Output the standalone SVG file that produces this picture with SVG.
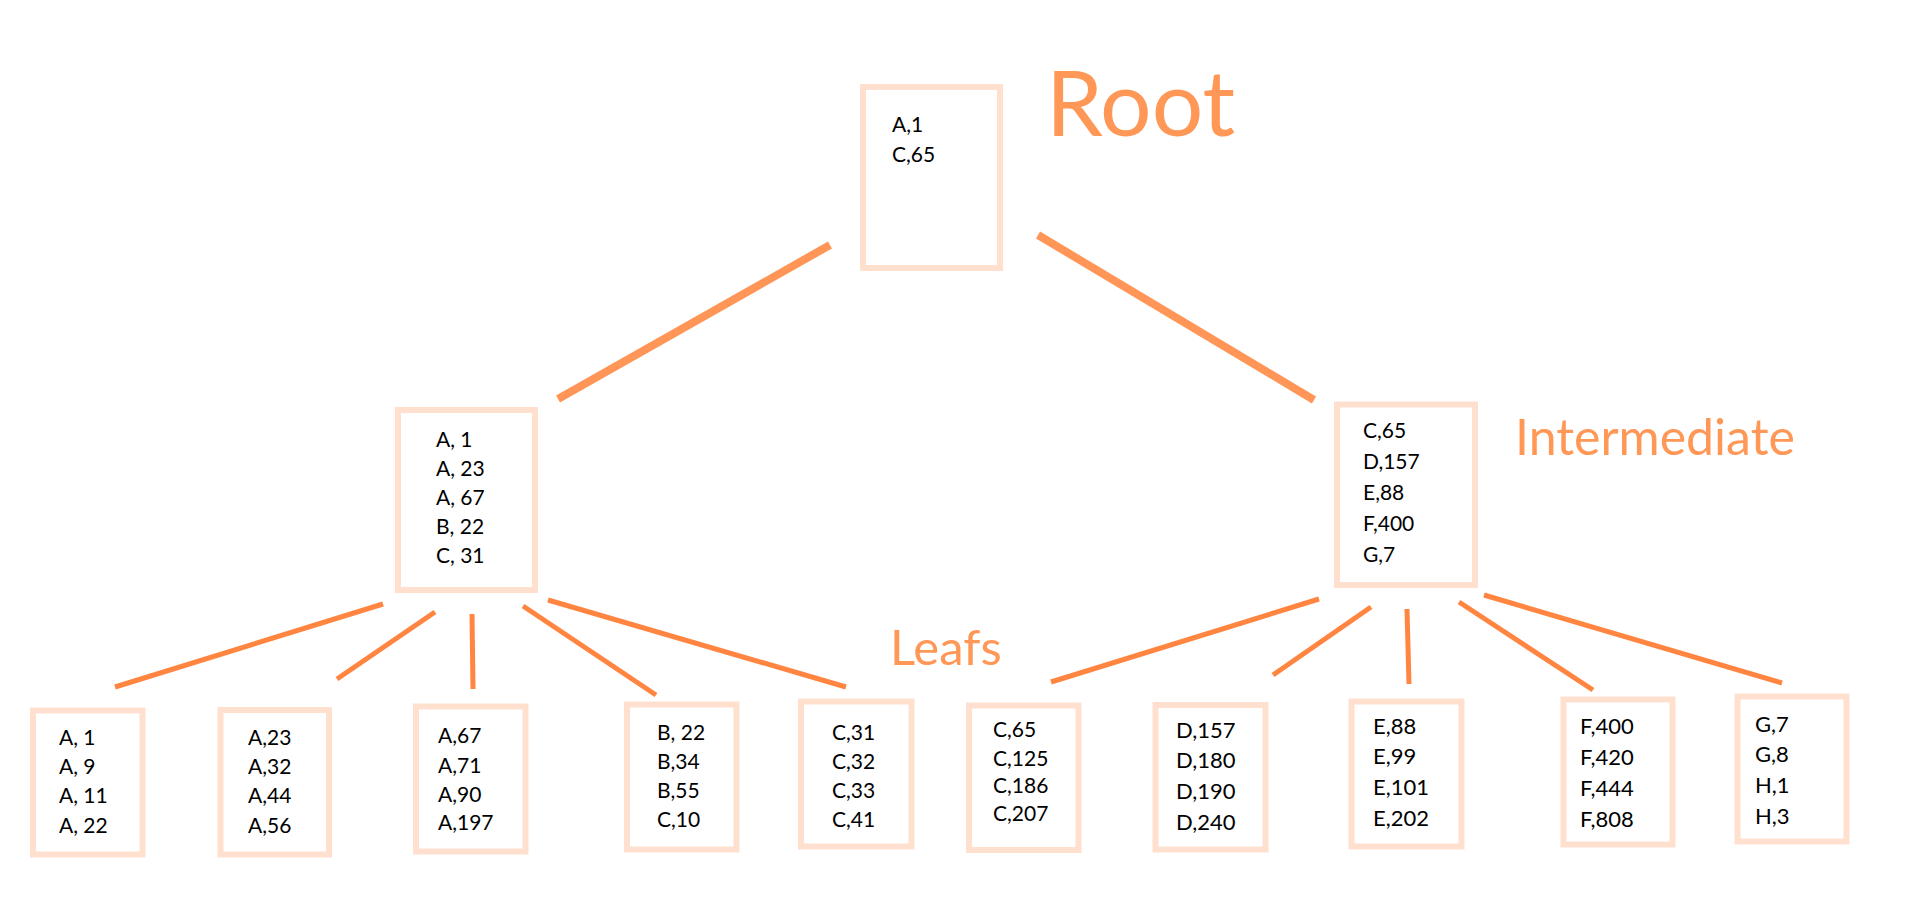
<svg xmlns="http://www.w3.org/2000/svg" width="1920" height="900" viewBox="0 0 1920 900">
<style>
.box{fill:#FFFFFF;stroke:#FFDFCD;stroke-width:6}
.t{font-family:Lato,"Liberation Sans",sans-serif;font-size:21px;fill:#000000}
.lbl{font-family:Lato,"Liberation Sans",sans-serif;fill:#FF9757}
.thick{stroke:#FF9657;stroke-width:8;stroke-linecap:butt}
.thin{stroke:#FF8540;stroke-width:5;stroke-linecap:butt}
</style>
<rect width="1920" height="900" fill="#FFFFFF"/>
<g id="connectors">
<line class="thick" x1="830" y1="245" x2="558" y2="399"/>
<line class="thick" x1="1038" y1="235" x2="1314" y2="400"/>
<line class="thin" x1="383" y1="604" x2="115" y2="687"/>
<line class="thin" x1="435" y1="612" x2="337" y2="679"/>
<line class="thin" x1="472" y1="614" x2="473" y2="689"/>
<line class="thin" x1="523" y1="606" x2="656" y2="695"/>
<line class="thin" x1="548" y1="600" x2="846" y2="687"/>
<line class="thin" x1="1319" y1="599" x2="1051" y2="682"/>
<line class="thin" x1="1371" y1="607" x2="1273" y2="675"/>
<line class="thin" x1="1407" y1="609" x2="1409" y2="684"/>
<line class="thin" x1="1459" y1="602" x2="1593" y2="690"/>
<line class="thin" x1="1484" y1="595" x2="1782" y2="683"/>
</g>
<g id="labels">
<text class="lbl" x="1046" y="136" font-size="91">Root</text>
<text class="lbl" x="1515" y="455" font-size="50">Intermediate</text>
<text class="lbl" x="890" y="665" font-size="49">Leafs</text>
</g>
<g id="root">
<rect class="box" x="863" y="87" width="137" height="181"/>
<text class="t"><tspan x="892" y="132">A,1</tspan><tspan x="892" y="162">C,65</tspan></text>
</g>
<g id="int-left">
<rect class="box" x="398" y="410" width="137" height="180"/>
<text class="t"><tspan x="436" y="447">A, 1</tspan><tspan x="436" y="476">A, 23</tspan><tspan x="436" y="505">A, 67</tspan><tspan x="436" y="534">B, 22</tspan><tspan x="436" y="563">C, 31</tspan></text>
</g>
<g id="int-right">
<rect class="box" x="1337" y="404.5" width="138" height="180.5"/>
<text class="t"><tspan x="1363" y="438">C,65</tspan><tspan x="1363" y="469">D,157</tspan><tspan x="1363" y="500">E,88</tspan><tspan x="1363" y="531">F,400</tspan><tspan x="1363" y="562">G,7</tspan></text>
</g>
<g id="leaf1">
<rect class="box" x="33" y="710.5" width="109.5" height="144"/>
<text class="t"><tspan x="59" y="745">A, 1</tspan><tspan x="59" y="774">A, 9</tspan><tspan x="59" y="803">A, 11</tspan><tspan x="59" y="833">A, 22</tspan></text>
</g>
<g id="leaf2">
<rect class="box" x="220.5" y="710" width="108.5" height="144.5"/>
<text class="t"><tspan x="248" y="745">A,23</tspan><tspan x="248" y="774">A,32</tspan><tspan x="248" y="803">A,44</tspan><tspan x="248" y="833">A,56</tspan></text>
</g>
<g id="leaf3">
<rect class="box" x="416" y="706.5" width="109.5" height="145"/>
<text class="t"><tspan x="438" y="743">A,67</tspan><tspan x="438" y="773">A,71</tspan><tspan x="438" y="802">A,90</tspan><tspan x="438" y="830">A,197</tspan></text>
</g>
<g id="leaf4">
<rect class="box" x="627" y="704.5" width="109.5" height="145"/>
<text class="t"><tspan x="657" y="740">B, 22</tspan><tspan x="657" y="769">B,34</tspan><tspan x="657" y="798">B,55</tspan><tspan x="657" y="827">C,10</tspan></text>
</g>
<g id="leaf5">
<rect class="box" x="801" y="701.5" width="110.5" height="145"/>
<text class="t"><tspan x="832" y="740">C,31</tspan><tspan x="832" y="769">C,32</tspan><tspan x="832" y="798">C,33</tspan><tspan x="832" y="827">C,41</tspan></text>
</g>
<g id="leaf6">
<rect class="box" x="969" y="705.5" width="109.5" height="144.5"/>
<text class="t" font-size="20"><tspan x="993" y="737">C,65</tspan><tspan x="993" y="766">C,125</tspan><tspan x="993" y="793">C,186</tspan><tspan x="993" y="821">C,207</tspan></text>
</g>
<g id="leaf7">
<rect class="box" x="1155.5" y="705" width="110" height="144.5"/>
<text class="t" style="font-size:22px"><tspan x="1176" y="738">D,157</tspan><tspan x="1176" y="768">D,180</tspan><tspan x="1176" y="799">D,190</tspan><tspan x="1176" y="830">D,240</tspan></text>
</g>
<g id="leaf8">
<rect class="box" x="1351.5" y="701.5" width="110" height="145"/>
<text class="t" style="font-size:22px"><tspan x="1373" y="734">E,88</tspan><tspan x="1373" y="764">E,99</tspan><tspan x="1373" y="795">E,101</tspan><tspan x="1373" y="826">E,202</tspan></text>
</g>
<g id="leaf9">
<rect class="box" x="1563.5" y="699.5" width="109" height="145"/>
<text class="t" style="font-size:22px"><tspan x="1580" y="734">F,400</tspan><tspan x="1580" y="765">F,420</tspan><tspan x="1580" y="796">F,444</tspan><tspan x="1580" y="827">F,808</tspan></text>
</g>
<g id="leaf10">
<rect class="box" x="1737.5" y="696.5" width="109" height="145"/>
<text class="t" style="font-size:22px"><tspan x="1755" y="732">G,7</tspan><tspan x="1755" y="762">G,8</tspan><tspan x="1755" y="793">H,1</tspan><tspan x="1755" y="824">H,3</tspan></text>
</g>
</svg>
